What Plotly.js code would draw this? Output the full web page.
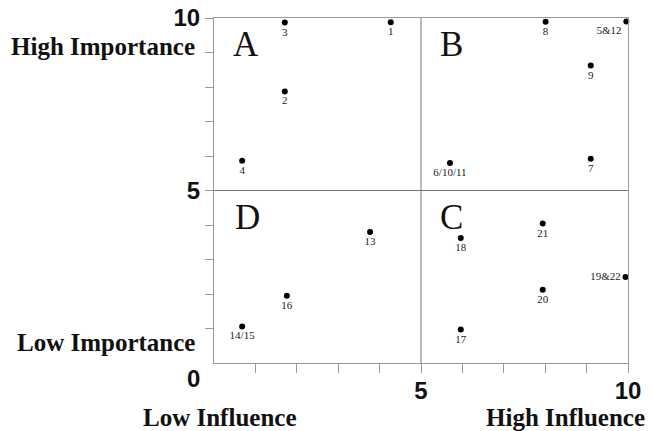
<!DOCTYPE html>
<html>
<head>
<meta charset="utf-8">
<script src="https://cdn.plot.ly/plotly-3.0.1.min.js"></script>
<style>html,body{margin:0;padding:0;background:#fff;}</style>
</head>
<body>
<div id="chart" style="width:652px;height:431px;"></div>
<script>
// Stakeholder labels and their (influence, importance) scores
const stakeholders = ['1','2','3','4','5&12','6/10/11','7','8','9','13','14/15','16','17','18','19&22','20','21'];
const influence    = [4.27, 1.71, 1.71, 0.68, 9.96, 5.70, 9.10, 8.01, 9.10, 3.77, 0.68, 1.76, 5.96, 5.96, 9.94, 7.94, 7.94];
const importance   = [9.88, 7.87, 9.87, 5.86, 9.90, 5.80, 5.92, 9.89, 8.62, 3.80, 1.06, 1.95, 0.97, 3.62, 2.49, 2.12, 4.04];

const quadrantNames = ['A', 'B', 'C', 'D'];
const xTickValues = [1, 2, 3, 4, 5, 6, 7, 8, 9, 10];
const xTickLabels = ['', '', '', '', '5', '', '', '', '', '10'];
const yTickValues = [1, 2, 3, 4, 5, 6, 7, 8, 9, 10];
const yTickLabels = ['', '', '', '', '5', '', '', '', '', '10'];
const yZeroLabel = '0';
const sideLabels = ['High Importance', 'Low Importance', 'Low Influence', 'High Influence'];

// label placement styles (not data)
const specialPos = {'5&12': 'bottom left', '19&22': 'middle left'};
const textPositions = stakeholders.map(s => specialPos[s] || 'bottom center');

const serif = '"Liberation Serif", "Times New Roman", serif';
const tickFont = {family: '"Liberation Sans Narrow", "Liberation Sans", Arial, sans-serif', size: 24, color: '#111', weight: 700};
const sideFont = {family: serif, size: 25, color: '#111', weight: 700};

const trace = {
  type: 'scatter',
  mode: 'markers+text',
  x: influence,
  y: importance,
  text: stakeholders,
  textposition: textPositions,
  textfont: {family: serif, size: 11, color: '#222'},
  marker: {color: '#000', size: 6},
  cliponaxis: false,
  hoverinfo: 'skip',
  showlegend: false
};

const quadPos = {
  A: {x: 0.41, y: 9.23},
  B: {x: 5.41, y: 9.23},
  C: {x: 5.41, y: 4.22},
  D: {x: 0.46, y: 4.22}
};
const annotations = quadrantNames.map(q => ({
  text: q, xref: 'x', yref: 'y', x: quadPos[q].x, y: quadPos[q].y,
  xanchor: 'left', yanchor: 'middle', showarrow: false,
  font: {family: serif, size: 35, color: '#111'}
}));

annotations.push(
  {text: sideLabels[0], xref: 'paper', yref: 'y', x: 0, y: 9.16, xanchor: 'right', yanchor: 'middle', xshift: -17, showarrow: false, font: sideFont},
  {text: sideLabels[1], xref: 'paper', yref: 'y', x: 0, y: 0.58, xanchor: 'right', yanchor: 'middle', xshift: -17, showarrow: false, font: sideFont},
  {text: sideLabels[2], xref: 'x', yref: 'paper', x: 0.14, y: 0, xanchor: 'center', yanchor: 'middle', yshift: -54, showarrow: false, font: sideFont},
  {text: sideLabels[3], xref: 'x', yref: 'paper', x: 8.5, y: 0, xanchor: 'center', yanchor: 'middle', yshift: -54, showarrow: false, font: sideFont},
  {text: yZeroLabel, xref: 'paper', yref: 'y', x: 0, y: 0, xanchor: 'right', yanchor: 'middle', xshift: -12, yshift: -15, showarrow: false, font: tickFont}
);

const layout = {
  width: 652,
  height: 431,
  margin: {l: 214, r: 24, t: 18, b: 68, pad: 0},
  paper_bgcolor: '#fff',
  plot_bgcolor: '#fff',
  xaxis: {
    range: [0, 10], fixedrange: true,
    tickmode: 'array', tickvals: xTickValues, ticktext: xTickLabels,
    ticks: 'outside', ticklen: 9, tickwidth: 1, tickcolor: '#999',
    ticklabelstandoff: -3,
    showline: true, linecolor: '#999', linewidth: 1, mirror: true,
    showgrid: false, zeroline: false,
    tickfont: tickFont
  },
  yaxis: {
    range: [0, 10], fixedrange: true,
    tickmode: 'array', tickvals: yTickValues, ticktext: yTickLabels,
    ticks: 'outside', ticklen: 8, tickwidth: 1, tickcolor: '#999',
    showline: true, linecolor: '#999', linewidth: 1, mirror: true,
    showgrid: false, zeroline: false,
    tickfont: tickFont
  },
  shapes: [
    {type: 'line', xref: 'x', yref: 'y', x0: 5, x1: 5, y0: 0, y1: 10, line: {color: '#777', width: 1}},
    {type: 'line', xref: 'x', yref: 'y', x0: 0, x1: 10, y0: 5, y1: 5, line: {color: '#777', width: 1}}
  ],
  annotations: annotations
};

Plotly.newPlot('chart', [trace], layout, {staticPlot: true, displayModeBar: false});
</script>
</body>
</html>
